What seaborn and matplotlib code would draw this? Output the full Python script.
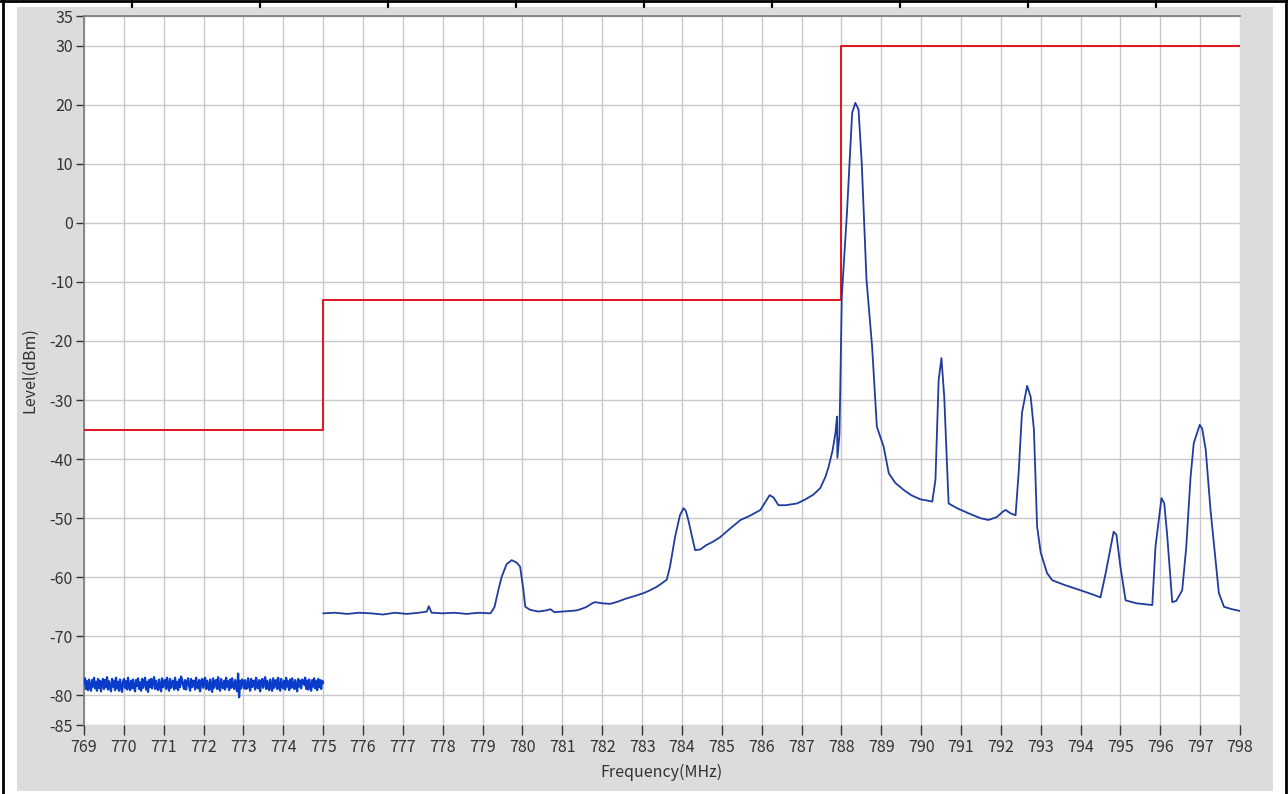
import numpy as np
import pandas as pd
import matplotlib
matplotlib.use("Agg")
import matplotlib.pyplot as plt
from matplotlib.patches import Rectangle
from matplotlib.lines import Line2D
import seaborn as sns

# Limit line (steps-post): level holds from each edge to the next
limit_freq = [769, 775, 788, 798]
limit_level = [-35, -13, 30, 30]

# Noise floor sweep 769..775 MHz (levels)
noise_start, noise_stop = 769.0, 775.0
noise_level = [
    -78.1, -77.1, -78.9, -77.6, -79.1, -77.3, -78.6, -79.2, -77.4, -78.5,
    -77.0, -78.8, -77.7, -79.2, -77.2, -78.7, -77.5, -79.3, -77.9, -77.2,
    -78.9, -77.4, -78.6, -76.9, -79.0, -77.6, -78.7, -79.3, -77.2, -78.5,
    -77.5, -79.1, -77.0, -78.8, -77.7, -79.2, -77.3, -78.6, -79.4, -77.6,
    -77.2, -78.7, -77.6, -79.0, -77.0, -78.5, -79.1, -77.5, -78.8, -77.3,
    -78.6, -79.3, -77.4, -78.4, -77.1, -78.9, -77.8, -79.2, -77.2, -78.7,
    -77.6, -77.0, -79.0, -77.7, -79.4, -77.4, -78.6, -77.2, -78.8, -77.6,
    -76.9, -78.9, -77.5, -78.7, -79.1, -77.3, -78.5, -79.3, -77.1, -78.6,
    -77.7, -77.4, -78.9, -77.0, -78.3, -79.2, -77.2, -78.7, -77.8, -77.5,
    -79.0, -77.0, -78.8, -77.7, -79.1, -77.3, -78.6, -76.8, -77.3, -78.3,
    -78.9, -77.4, -79.0, -77.8, -77.1, -78.4, -79.2, -77.2, -78.6, -77.6,
    -77.5, -79.0, -77.0, -78.5, -78.8, -77.4, -79.3, -77.7, -77.2, -78.7,
    -77.6, -77.0, -78.9, -77.5, -78.6, -79.1, -77.3, -78.5, -79.4, -77.1,
    -78.7, -77.6, -77.4, -78.9, -76.9, -78.6, -79.2, -77.2, -78.4, -78.8,
    -77.5, -79.0, -77.0, -78.5, -77.6, -79.1, -77.3, -78.7, -77.1, -78.4,
    -78.9, -77.4, -78.6, -79.3, -76.3, -80.3, -77.5, -78.8, -77.3, -77.6,
    -78.8, -77.4, -78.9, -78.7, -77.1, -78.4, -79.2, -77.2, -78.6, -77.6,
    -77.5, -79.0, -77.0, -78.5, -78.8, -77.4, -79.3, -77.7, -77.2, -78.7,
    -77.6, -76.9, -78.9, -77.5, -78.6, -79.1, -77.3, -78.5, -79.2, -77.1,
    -78.7, -77.6, -77.4, -78.9, -77.0, -78.6, -79.2, -77.2, -78.4, -78.8,
    -77.5, -79.0, -77.0, -78.5, -77.6, -79.1, -77.3, -78.7, -77.1, -78.4,
    -78.9, -77.4, -78.6, -79.3, -77.2, -78.5, -77.5, -78.8, -77.3, -77.6,
    -78.2, -77.0, -78.9, -77.5, -79.0, -77.3, -78.6, -79.2, -77.4, -78.5,
    -77.1, -78.8, -77.6, -79.1, -77.2, -78.6, -77.4, -78.9, -77.5, -77.9,
]

# Spectrum trace 775..798 MHz
trace_freq = [
    775.00, 775.30, 775.60, 775.90, 776.20, 776.50, 776.80, 777.10, 777.40, 777.60,
    777.65, 777.72, 778.00, 778.30, 778.60, 778.90, 779.20, 779.30, 779.40, 779.48,
    779.60, 779.73, 779.85, 779.94, 780.02, 780.07, 780.19, 780.40, 780.60, 780.70,
    780.80, 781.00, 781.20, 781.36, 781.50, 781.61, 781.75, 781.82, 782.00, 782.20,
    782.40, 782.60, 782.80, 783.03, 783.20, 783.37, 783.50, 783.62, 783.70, 783.83,
    783.95, 784.04, 784.10, 784.16, 784.25, 784.33, 784.46, 784.60, 784.80, 784.96,
    785.20, 785.47, 785.70, 785.97, 786.10, 786.20, 786.30, 786.42, 786.60, 786.89,
    787.10, 787.30, 787.47, 787.60, 787.68, 787.78, 787.85, 787.89, 787.90, 787.95,
    787.97, 788.01, 788.14, 788.27, 788.35, 788.43, 788.51, 788.63, 788.77, 788.89,
    789.06, 789.19, 789.35, 789.56, 789.75, 789.98, 790.15, 790.28, 790.36, 790.44,
    790.51, 790.58, 790.69, 790.90, 791.20, 791.49, 791.69, 791.90, 792.05, 792.12,
    792.25, 792.37, 792.45, 792.53, 792.66, 792.75, 792.83, 792.91, 793.00, 793.16,
    793.29, 793.60, 794.00, 794.30, 794.50, 794.63, 794.83, 794.90, 795.00, 795.13,
    795.40, 795.80, 795.88, 796.03, 796.10, 796.17, 796.30, 796.40, 796.55, 796.65,
    796.76, 796.84, 796.99, 797.05, 797.14, 797.26, 797.47, 797.60, 797.80, 798.00,
]
trace_level = [
    -66.1, -66.0, -66.2, -66.0, -66.1, -66.3, -66.0, -66.2, -66.0, -65.8,
    -64.9, -66.0, -66.1, -66.0, -66.2, -66.0, -66.1, -65.0, -62.0, -59.9,
    -57.8, -57.1, -57.5, -58.2, -62.0, -65.0, -65.5, -65.8, -65.6, -65.4,
    -65.9, -65.8, -65.7, -65.6, -65.3, -65.0, -64.4, -64.2, -64.4, -64.5,
    -64.1, -63.6, -63.2, -62.7, -62.2, -61.6, -61.0, -60.4, -58.2, -53.1,
    -49.5, -48.3, -48.8, -50.3, -53.0, -55.4, -55.3, -54.6, -53.9, -53.2,
    -51.8, -50.3, -49.6, -48.6, -47.2, -46.1, -46.5, -47.8, -47.8, -47.5,
    -46.8, -46.0, -44.9, -43.0, -41.3, -38.5, -35.6, -32.8, -39.8, -36.0,
    -28.8, -12.5, 1.7, 18.6, 20.3, 19.2, 10.2, -9.6, -20.9, -34.5,
    -37.9, -42.4, -44.0, -45.2, -46.1, -46.8, -47.0, -47.2, -43.5, -26.6,
    -22.9, -29.4, -47.5, -48.3, -49.2, -50.0, -50.3, -49.8, -48.9, -48.6,
    -49.2, -49.5, -42.0, -32.2, -27.6, -29.5, -35.0, -51.4, -55.8, -59.3,
    -60.5, -61.3, -62.2, -62.9, -63.4, -59.3, -52.3, -52.8, -58.2, -63.9,
    -64.4, -64.7, -54.8, -46.6, -47.5, -52.6, -64.2, -64.0, -62.2, -55.0,
    -43.0, -37.3, -34.2, -34.8, -38.4, -48.6, -62.7, -65.0, -65.4, -65.7,
]

x_ticks = list(range(769, 799))
y_ticks = [35, 30, 20, 10, 0, -10, -20, -30, -40, -50, -60, -70, -80, -85]

sns.set_theme(style="white")
plt.rcParams['font.family'] = ['Noto Sans CJK SC', 'DejaVu Sans']
plt.rcParams['axes.unicode_minus'] = False

W, H = 1288, 794
fig = plt.figure(figsize=(W / 100, H / 100), dpi=100)
fig.patch.set_facecolor("white")

# gray panel and document frame lines
fig.add_artist(Rectangle((17 / W, 1 - 791 / H), (1273 - 17) / W, (791 - 7) / H,
                         transform=fig.transFigure, facecolor="#dcdcdc",
                         edgecolor="none", zorder=0))
for xp in (3, 1286):
    fig.add_artist(Line2D([xp / W, xp / W], [0, 1], transform=fig.transFigure,
                          color="black", lw=2))
fig.add_artist(Line2D([0, 1], [1 - 1 / H, 1 - 1 / H], transform=fig.transFigure,
                      color="black", lw=2))
for xp in range(132, 1200, 128):
    fig.add_artist(Line2D([xp / W, xp / W], [1 - 7 / H, 1], transform=fig.transFigure,
                          color="black", lw=1.6))

left, right, top, bottom = 84, 1240, 16, 725
ax = fig.add_axes([left / W, 1 - bottom / H, (right - left) / W, (bottom - top) / H])
ax.set_facecolor("white")

noise_df = pd.DataFrame({"freq": np.linspace(noise_start, noise_stop, len(noise_level)),
                         "level": noise_level})
trace_df = pd.DataFrame({"freq": trace_freq, "level": trace_level})
limit_df = pd.DataFrame({"freq": limit_freq, "level": limit_level})

sns.lineplot(data=limit_df, x="freq", y="level", ax=ax, color="#e0141e", lw=1.4,
             drawstyle="steps-post", estimator=None, sort=False, zorder=3)
sns.lineplot(data=noise_df, x="freq", y="level", ax=ax, color="#0a3ccc", lw=1.6,
             estimator=None, sort=False, zorder=4)
sns.lineplot(data=trace_df, x="freq", y="level", ax=ax, color="#1f3c9e", lw=1.3,
             estimator=None, sort=False, zorder=4)

ax.set_xlim(769, 798)
ax.set_ylim(-85, 35)
ax.set_xticks(x_ticks)
ax.set_yticks(y_ticks)
ax.grid(True, color="#c8c8c8", lw=1)
ax.set_axisbelow(True)

for side in ("bottom", "right"):
    ax.spines[side].set_visible(False)
for side in ("left", "top"):
    ax.spines[side].set_color("#7a7a7a")
    ax.spines[side].set_linewidth(1.2)

ax.tick_params(axis="both", which="major", direction="out", colors="#333333",
               labelsize=11.5, width=1, length=6, pad=2, left=True, bottom=True)
ax.tick_params(axis="x", length=7, pad=3)
for lab in ax.get_xticklabels() + ax.get_yticklabels():
    lab.set_color("#333333")

ax.set_xlabel("Frequency(MHz)", fontsize=11.5, color="#333333", labelpad=6)
ax.set_ylabel("Level(dBm)", fontsize=11.5, color="#333333", labelpad=8)

fig.savefig("out.png", dpi=100)
